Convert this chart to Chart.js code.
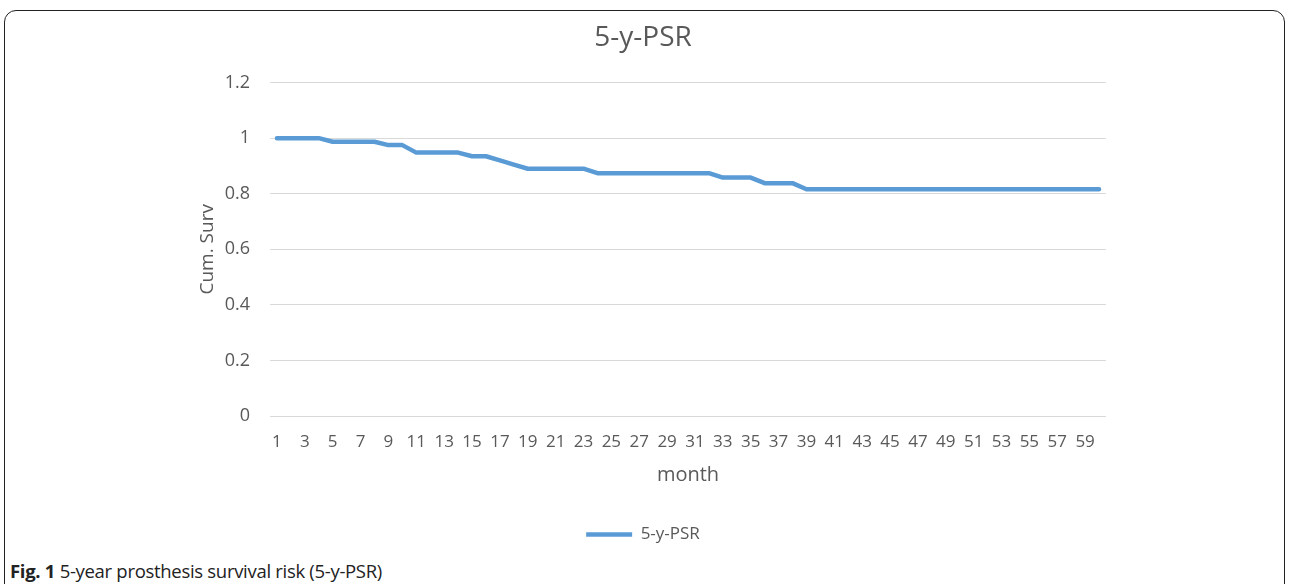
<!DOCTYPE html>
<html>
<head>
<meta charset="utf-8">
<script src="https://cdn.jsdelivr.net/npm/chart.js@4.4.1/dist/chart.umd.min.js"></script>
<style>
  html, body { margin: 0; padding: 0; background: #fff; }
  body { width: 1292px; height: 584px; overflow: hidden; position: relative; }
  .frame {
    position: absolute; left: 4px; top: 10px; width: 1281px; height: 600px;
    border: 1.5px solid #222; border-radius: 12px; box-sizing: border-box;
  }
  .chart-box { position: absolute; left: 0; top: 0; width: 1292px; height: 556px; }
  .caption {
    position: absolute; left: 10px; top: 560px; line-height: 22px;
    font-family: "Open Sans", "Noto Sans", sans-serif;
    font-size: 18.5px; color: #222; white-space: nowrap; letter-spacing: -0.3px;
  }
  .caption b { font-weight: bold; }
</style>
</head>
<body>
<div class="frame"></div>
<div class="chart-box"><canvas id="psr-chart"></canvas></div>
<div class="caption"><b>Fig. 1</b> 5-year prosthesis survival risk (5-y-PSR)</div>
<script>
// months on the x axis
const months = [
  '1','2','3','4','5','6','7','8','9','10',
  '11','12','13','14','15','16','17','18','19','20',
  '21','22','23','24','25','26','27','28','29','30',
  '31','32','33','34','35','36','37','38','39','40',
  '41','42','43','44','45','46','47','48','49','50',
  '51','52','53','54','55','56','57','58','59','60'
];

// cumulative survival
const cumSurv = [
  1, 1, 1, 1, 0.987, 0.987, 0.987, 0.987, 0.975, 0.975,
  0.948, 0.948, 0.948, 0.948, 0.935, 0.935, 0.92, 0.905, 0.89, 0.89,
  0.89, 0.89, 0.89, 0.874, 0.874, 0.874, 0.874, 0.874, 0.874, 0.874,
  0.874, 0.874, 0.858, 0.858, 0.858, 0.838, 0.838, 0.838, 0.816, 0.816,
  0.816, 0.816, 0.816, 0.816, 0.816, 0.816, 0.816, 0.816, 0.816, 0.816,
  0.816, 0.816, 0.816, 0.816, 0.816, 0.816, 0.816, 0.816, 0.816, 0.816
];

const yTicks = [0, 0.2, 0.4, 0.6, 0.8, 1, 1.2];

const TEXT = '#595959';
const GRID = '#d9d9d9';
const LINE = '#5b9bd5';
const FONT = '"Open Sans", "Noto Sans", sans-serif';

new Chart(document.getElementById('psr-chart'), {
  type: 'line',
  data: {
    labels: months,
    datasets: [{
      label: '5-y-PSR',
      data: cumSurv,
      borderColor: LINE,
      backgroundColor: LINE,
      borderWidth: 4.5,
      borderCapStyle: 'round',
      borderJoinStyle: 'round',
      pointRadius: 0,
      tension: 0
    }]
  },
  options: {
    responsive: true,
    maintainAspectRatio: false,
    animation: false,
    layout: { padding: { left: 180, right: 186, top: 0, bottom: 3 } },
    plugins: {
      title: {
        display: true,
        text: '5-y-PSR',
        color: TEXT,
        font: { family: FONT, size: 28, weight: 'normal' },
        padding: { top: 21, bottom: 28 }
      },
      legend: {
        position: 'bottom',
        labels: {
          color: TEXT,
          font: { family: FONT, size: 17 },
          usePointStyle: true,
          pointStyle: 'line',
          pointStyleWidth: 46,
          padding: 8
        }
      },
      tooltip: { enabled: false }
    },
    scales: {
      x: {
        offset: true,
        afterFit: (scale) => { scale.height = 102; },
        grid: { display: false, drawTicks: false },
        border: { display: false },
        ticks: {
          color: TEXT,
          font: { family: FONT, size: 17 },
          autoSkip: false,
          maxRotation: 0,
          padding: 16,
          callback: (v, i) => (i % 2 === 0 ? months[i] : '')
        },
        title: {
          display: true,
          text: 'month',
          color: TEXT,
          font: { family: FONT, size: 20 },
          padding: { top: 0, bottom: 31 }
        }
      },
      y: {
        min: 0,
        max: 1.2,
        afterBuildTicks: (scale) => { scale.ticks = yTicks.map(v => ({ value: v })); },
        afterFit: (scale) => { scale.width = 90; },
        grid: { color: GRID, lineWidth: 1, drawTicks: false },
        border: { display: false },
        ticks: {
          color: TEXT,
          font: { family: FONT, size: 18 },
          padding: 20,
          callback: (v) => String(v)
        },
        title: {
          display: true,
          text: 'Cum. Surv',
          color: TEXT,
          font: { family: FONT, size: 19 },
          padding: { top: 16, bottom: 0 }
        }
      }
    }
  }
});
</script>
</body>
</html>
